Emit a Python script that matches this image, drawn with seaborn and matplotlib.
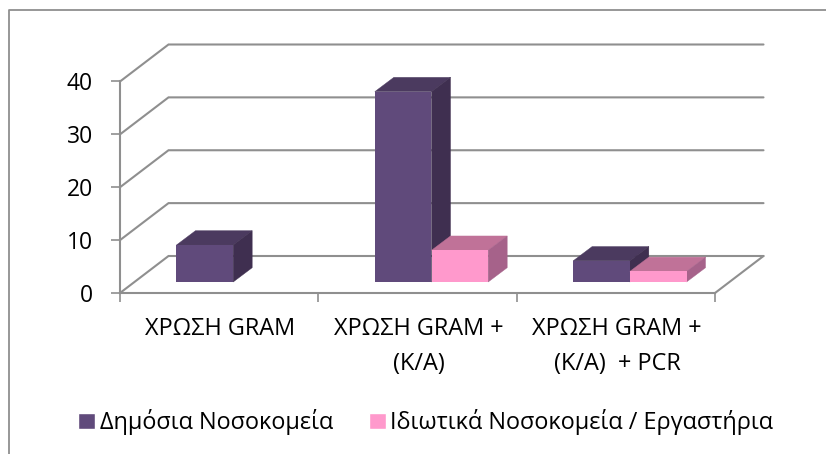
import matplotlib
matplotlib.use("Agg")
import matplotlib.pyplot as plt
import pandas as pd
import seaborn as sns
from matplotlib.lines import Line2D
from matplotlib.patches import Polygon, Patch

categories = ["ΧΡΩΣΗ GRAM", "ΧΡΩΣΗ GRAM +\n(Κ/Α)", "ΧΡΩΣΗ GRAM +\n(Κ/Α)  + PCR"]
series_names = ["Δημόσια Νοσοκομεία", "Ιδιωτικά Νοσοκομεία / Εργαστήρια"]
public_values = [7, 36, 4]
private_values = [0, 6, 2]
y_ticks = [0, 10, 20, 30, 40]

W, H = 826, 454
GREY = "#8f8f8f"
FRONT = ["#604a7b", "#ff99cc"]
TOP = ["#4b3a5f", "#c07298"]
SIDE = ["#3f2f50", "#a6628a"]
FONT = ["Open Sans", "DejaVu Sans"]

sns.set_theme(style="white")
plt.rcParams["font.family"] = FONT

df = pd.DataFrame({
    "cat": categories * 2,
    "series": [series_names[0]] * 3 + [series_names[1]] * 3,
    "value": public_values + private_values,
})

fig = plt.figure(figsize=(W / 100, H / 100), dpi=100, facecolor="white")


def box(x0, x1, ytop, ybot):
    return [x0 / W, 1 - ybot / H, (x1 - x0) / W, (ybot - ytop) / H]


# outer frame (left and top edges only)
fig.add_artist(Line2D([8.5 / W, 8.5 / W, 1], [0, 1 - 9.5 / H, 1 - 9.5 / H],
                      color=GREY, lw=1.3, transform=fig.transFigure))

# front plane of the chart: walls, floor, gridlines
ax = fig.add_axes(box(120, 715, 81.5, 293))
ax.set_xlim(-0.5, 2.5)
ax.set_ylim(0, 40)
ax.patch.set_alpha(0)
DX, DY = 48.5 / 198.3, 37 / 5.2875
for v in y_ticks:
    ax.plot([-0.5, -0.5 + DX, 2.5 + DX], [v, v + DY, v + DY], color=GREY, lw=1.5,
            clip_on=False, solid_joinstyle="miter", zorder=1)
ax.plot([2.5, 2.5 + DX], [0, DY], color=GREY, lw=1.5, clip_on=False, zorder=1)
for s in ["top", "right"]:
    ax.spines[s].set_visible(False)
for s in ["left", "bottom"]:
    ax.spines[s].set_color(GREY)
    ax.spines[s].set_linewidth(1.5)
ax.set_yticks(y_ticks)
ax.set_xticks([-0.5, 0.5, 1.5, 2.5])
ax.set_xticklabels([])
ax.tick_params(axis="both", length=6.5, width=1.2, color=GREY, left=True, bottom=True)
ax.tick_params(axis="y", labelsize=16.5, labelcolor="black", pad=13)
for i, c in enumerate(categories):
    ax.annotate(c, xy=(i, 0), xytext=(1, -17), textcoords="offset points",
                ha="center", va="top", fontsize=16.9, linespacing=1.63, color="black")

# bars sit on a plane set into the floor
bx = fig.add_axes(box(134, 729, 70.5, 282))
sns.barplot(data=df, x="cat", y="value", hue="series", hue_order=series_names,
            palette=FRONT, width=0.5715, gap=0, saturation=1, dodge=True, ax=bx,
            legend=False, linewidth=0, zorder=3)
bx.set_xlim(-0.5, 2.5)
bx.set_ylim(0, 40)
bx.axis("off")
bx.patch.set_alpha(0)

ddx, ddy = 19 / 198.3, 14.3 / 5.2875
for si, cont in enumerate(bx.containers):
    for bar in cont:
        h = bar.get_height()
        if h <= 0:
            bar.set_visible(False)
            continue
        x0, x1 = bar.get_x(), bar.get_x() + bar.get_width()
        z = 2 + si * 2
        bar.set_zorder(z + 1)
        bx.add_patch(Polygon([(x0, h), (x1, h), (x1 + ddx, h + ddy), (x0 + ddx, h + ddy)],
                             closed=True, fc=TOP[si], ec=TOP[si], lw=0.3, clip_on=False, zorder=z))
        bx.add_patch(Polygon([(x1, 0), (x1, h), (x1 + ddx, h + ddy), (x1 + ddx, ddy)],
                             closed=True, fc=SIDE[si], ec=SIDE[si], lw=0.3, clip_on=False, zorder=z))

handles = [Patch(fc=FRONT[0]), Patch(fc=FRONT[1])]
fig.legend(handles, series_names, loc="center left", ncols=2, frameon=False,
           bbox_to_anchor=(78 / W, 1 - 422 / H), fontsize=16.9, handlelength=0.72,
           handleheight=0.68, handletextpad=0.2, columnspacing=1.53, borderpad=0,
           borderaxespad=0, labelcolor="black")

fig.savefig("out.png", dpi=100, facecolor="white")
